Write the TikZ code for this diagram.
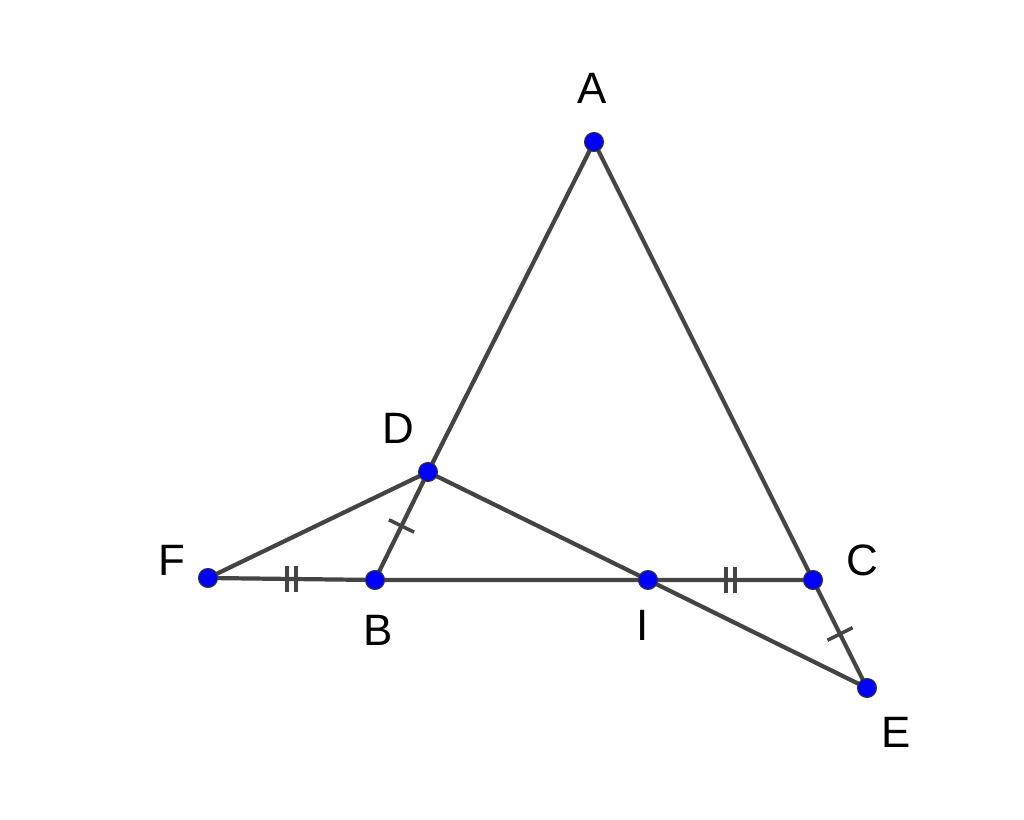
\documentclass[tikz,border=0pt]{standalone}
\usepackage{fontspec}
\setmainfont{Liberation Sans}
\usetikzlibrary{calc}
\definecolor{segcol}{HTML}{444444}
\definecolor{ptblue}{HTML}{0000FF}
\tikzset{
  seg/.style={draw=segcol, line width=2.4pt, line cap=round},
  tickmark/.style={draw=segcol, line width=2pt},
  pt/.style={circle, fill=ptblue, draw=black!80, line width=0.6pt, inner sep=0pt, minimum size=0.38cm},
  lbl/.style={font=\fontsize{25}{30}\selectfont, text=black}
}
\begin{document}
\begin{tikzpicture}
\useasboundingbox[fill=white] (0,0) rectangle (20.48,16.4);
% points
\coordinate (A) at (11.88,13.56);
\coordinate (D) at (8.56,6.96);
\coordinate (F) at (4.16,4.84);
\coordinate (B) at (7.50,4.80);
\coordinate (I) at (12.96,4.80);
\coordinate (C) at (16.26,4.80);
\coordinate (E) at (17.34,2.64);
% sides
\draw[seg] (A) -- (D) -- (B);
\draw[seg] (A) -- (C) -- (E);
\draw[seg] (F) -- (B) -- (I) -- (C);
\draw[seg] (F) -- (D) -- (I) -- (E);
% equal marks
\coordinate (mDB) at ($(D)!0.5!(B)$);
\coordinate (mCE) at ($(C)!0.5!(E)$);
\draw[tickmark] ($(mDB)!0.28cm!90:(B)$) -- ($(mDB)!0.28cm!-90:(B)$);
\draw[tickmark] ($(mCE)!0.28cm!90:(E)$) -- ($(mCE)!0.28cm!-90:(E)$);
\foreach \p/\q in {F/B, I/C} {
  \coordinate (m) at ($(\p)!0.5!(\q)$);
  \foreach \s in {-0.09,0.09}
    \draw[tickmark] ($(m)+(\s,0.26)$) -- ($(m)+(\s,-0.26)$);
}
% dots
\foreach \p in {A,D,F,B,I,C,E}
  \node[pt] (dot\p) at (\p) {};
% names
\node[lbl] (labA) at (11.84,14.64) {A};
\node[lbl] (labD) at (7.96,7.84) {D};
\node[lbl] (labF) at (3.44,5.20) {F};
\node[lbl] (labB) at (7.56,3.80) {B};
\node[lbl] (labI) at (12.86,3.90) {I};
\node[lbl] (labC) at (17.24,5.20) {C};
\node[lbl] (labE) at (17.92,1.76) {E};
\end{tikzpicture}
\end{document}
